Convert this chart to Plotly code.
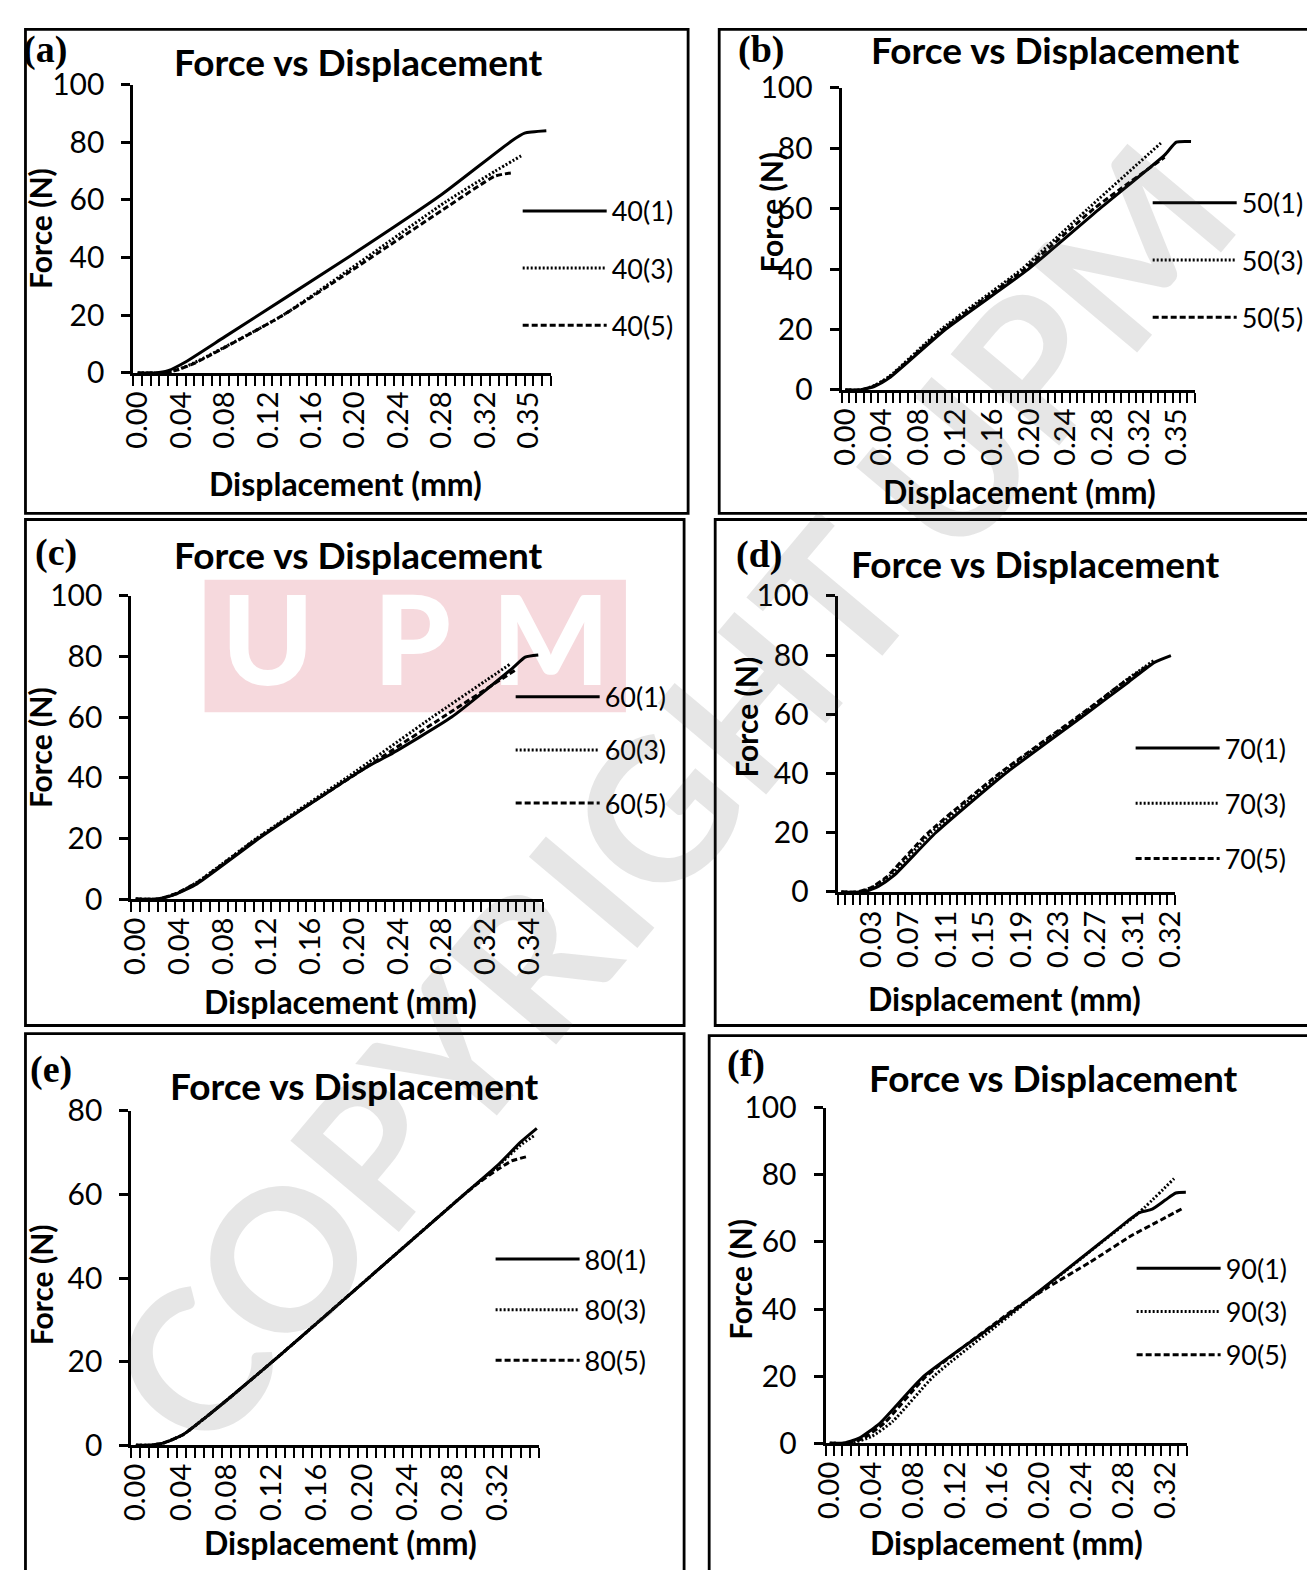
import plotly.graph_objects as go

W, H = 1315, 1570
FONT = "Lato"
SERIF = "Liberation Serif"

# ---------------- data ----------------
# x values are positions on the (Excel-style) category axis: one category per tick mark;
# tick labels give the displacement (mm) shown at those categories.  y = Force (N)

# Panel (a)
A_NAMES = ["40(1)", "40(3)", "40(5)"]
A_X1 = [0, 2, 3.5, 5.5, 10, 24.4, 35, 43, 44.5, 47]
A_Y1 = [0, 0, 0.8, 3.8, 12.5, 40.5, 62, 80.5, 83.2, 84]
A_X3 = [0, 3, 4.5, 6.5, 16.7, 35.5, 41.1, 44.1]
A_Y3 = [0, 0, 1, 3.5, 20, 59.5, 70, 75.3]
A_X5 = [0, 3, 4.5, 6.5, 16.7, 35.7, 41.1, 43.2]
A_Y5 = [0, 0, 1, 3.3, 20, 57.8, 68.3, 69.5]
A_TICKPOS = [0, 5, 10, 15, 20, 25, 30, 35, 40, 45]
A_TICKTXT = ["0.00", "0.04", "0.08", "0.12", "0.16", "0.20", "0.24", "0.28", "0.32", "0.35"]

# Panel (b)
B_NAMES = ["50(1)", "50(3)", "50(5)"]
B_X1 = [0, 2, 4, 6, 13.6, 24.9, 34.6, 43.4, 45, 47]
B_Y1 = [0, 0, 1.2, 4, 20, 40, 60, 77.7, 82, 82.2]
B_X3 = [0, 2, 4, 6, 13, 24, 33, 42.9]
B_Y3 = [0, 0, 1.5, 4.5, 20, 40, 60, 81.7]
B_X5 = [0, 2, 4, 6, 13.3, 24.4, 33.8, 43.4]
B_Y5 = [0, 0, 1.4, 4.3, 20, 40, 60, 77]
B_TICKPOS = [0, 5, 10, 15, 20, 25, 30, 35, 40, 45]
B_TICKTXT = ["0.00", "0.04", "0.08", "0.12", "0.16", "0.20", "0.24", "0.28", "0.32", "0.35"]

# Panel (c)
C_NAMES = ["60(1)", "60(3)", "60(5)"]
C_X1 = [0, 2.5, 4.5, 7, 14.1, 25, 27, 29, 36.1, 43, 44.5, 46]
C_Y1 = [0, 0, 1.5, 5, 20, 41, 44.5, 47.5, 60, 76, 79.8, 80.5]
C_X3 = [0, 2.5, 4.5, 7, 13.8, 24.1, 33.9, 40, 42.8]
C_Y3 = [0, 0, 1.6, 5.5, 20, 40, 60, 72, 77.5]
C_X5 = [0, 2.5, 4.5, 7, 13.9, 24.5, 35.1, 43.6]
C_Y5 = [0, 0, 1.7, 5.4, 20, 40, 60, 75.9]
C_TICKPOS = [0, 5, 10, 15, 20, 25, 30, 35, 40, 45]
C_TICKTXT = ["0.00", "0.04", "0.08", "0.12", "0.16", "0.20", "0.24", "0.28", "0.32", "0.34"]

# Panel (d)
D_NAMES = ["70(1)", "70(3)", "70(5)"]
D_X1 = [0, 3, 5, 7, 12.6, 21.9, 32.6, 38.4, 41.8, 44]
D_Y1 = [0, 0, 2, 5.5, 20, 40, 60, 71, 77.5, 79.8]
D_X3 = [0, 2.5, 4.5, 6.5, 12, 21.4, 32.2, 38, 41.8]
D_Y3 = [0, 0, 2, 5.5, 20, 40, 60, 71.5, 78.3]
D_X5 = [0, 2, 4, 6, 11.6, 21.1, 32, 37.7, 41]
D_Y5 = [0, 0, 1.5, 5, 20, 40, 60, 70.8, 76.5]
D_TICKPOS = [4, 9, 14, 19, 24, 29, 34, 39, 44]
D_TICKTXT = ["0.03", "0.07", "0.11", "0.15", "0.19", "0.23", "0.27", "0.31", "0.32"]

# Panel (e)
E_NAMES = ["80(1)", "80(3)", "80(5)"]
E_X1 = [0, 1.5, 3, 5.2, 7.5, 10.5, 15.9, 25.7, 36, 40, 42.5, 44.3]
E_Y1 = [0, 0, 0.5, 2.5, 6.3, 11.6, 21.5, 40, 59.5, 67, 72.5, 75.8]
E_X3 = [0, 1.5, 3, 5.2, 7.5, 10.5, 15.9, 25.7, 36, 40, 42.5, 44.1]
E_Y3 = [0, 0, 0.5, 2.5, 6.3, 11.6, 21.5, 40, 59.5, 66.8, 71.8, 74.2]
E_X5 = [0, 1.5, 3, 5.2, 7.5, 10.5, 15.9, 25.7, 36, 38, 40, 41.5, 43.1]
E_Y5 = [0, 0, 0.5, 2.5, 6.3, 11.6, 21.5, 40, 59.5, 63, 66, 68, 69]
E_TICKPOS = [0, 5, 10, 15, 20, 25, 30, 35, 40]
E_TICKTXT = ["0.00", "0.04", "0.08", "0.12", "0.16", "0.20", "0.24", "0.28", "0.32"]

# Panel (f)
F_NAMES = ["90(1)", "90(3)", "90(5)"]
F_X1 = [0, 1.5, 3.5, 6, 11.2, 22.2, 32.4, 35.5, 36.8, 38.4, 40, 41.2, 42.4]
F_Y1 = [0, 0, 1.5, 6, 20, 40, 60.1, 66.3, 68.7, 69.8, 72.6, 74.6, 74.8]
F_X3 = [0, 2.5, 5, 7.5, 12.4, 22.4, 32.4, 36.8, 41]
F_Y3 = [0, 0, 2, 6.5, 20, 40, 60, 68.7, 78.9]
F_X5 = [0, 2, 4, 6.5, 11.5, 22, 26, 31, 36, 39, 42]
F_Y5 = [0, 0, 1.5, 6, 20, 40, 46.5, 54, 62, 66, 70]
F_TICKPOS = [0, 5, 10, 15, 20, 25, 30, 35, 40]
F_TICKTXT = ["0.00", "0.04", "0.08", "0.12", "0.16", "0.20", "0.24", "0.28", "0.32"]

TITLE = "Force vs Displacement"
XTITLE = "Displacement (mm)"
YTITLE = "Force (N)"
WATERMARK = "COPYRIGHT UPM"
LOGO_LETTERS = ["U", "P", "M"]

# ---------------- layout (target pixel geometry on the photographed page) ----------------
OX, KX, OY, KY = 25.0, 0.9756, 28.5, 0.9725   # page offset / scale measured on the photo


def sx(t):
    return max(0.0, (t - OX) / KX)


def sy(t):
    return max(0.0, (t - OY) / KY)


PANELS = [
    dict(tag="(a)", names=A_NAMES, xs=[A_X1, A_X3, A_X5], ys=[A_Y1, A_Y3, A_Y5],
         tpos=A_TICKPOS, ttxt=A_TICKTXT, ncat=48, ymax=100,
         box=(12, 12, 687, 512), ax=(134, 550), ay=(372, 85),
         lab=(46, 46), title=(358, 62), xt=(345, 482), yt=(40, 228),
         legx=522, legy=(211, 269, 326)),
    dict(tag="(b)", names=B_NAMES, xs=[B_X1, B_X3, B_X5], ys=[B_Y1, B_Y3, B_Y5],
         tpos=B_TICKPOS, ttxt=B_TICKTXT, ncat=48, ymax=100,
         box=(718, 14, 1340, 512), ax=(840, 1192), ay=(389, 88),
         lab=(760, 50), title=(1053, 50), xt=(1017, 490), yt=(770, 212),
         legx=1150, legy=(203, 262, 318)),
    dict(tag="(c)", names=C_NAMES, xs=[C_X1, C_X3, C_X5], ys=[C_Y1, C_Y3, C_Y5],
         tpos=C_TICKPOS, ttxt=C_TICKTXT, ncat=47, ymax=100,
         box=(10, 518, 683, 1022), ax=(132, 542), ay=(896, 594),
         lab=(57, 551), title=(358, 553), xt=(340, 998), yt=(40, 745),
         legx=515, legy=(695, 749, 802)),
    dict(tag="(d)", names=D_NAMES, xs=[D_X1, D_X3, D_X5], ys=[D_Y1, D_Y3, D_Y5],
         tpos=D_TICKPOS, ttxt=D_TICKTXT, ncat=45, ymax=100,
         box=(714, 518, 1340, 1022), ax=(836, 1172), ay=(889, 594),
         lab=(758, 553), title=(1033, 562), xt=(1002, 995), yt=(745, 715),
         legx=1133, legy=(746, 801, 857)),
    dict(tag="(e)", names=E_NAMES, xs=[E_X1, E_X3, E_X5], ys=[E_Y1, E_Y3, E_Y5],
         tpos=E_TICKPOS, ttxt=E_TICKTXT, ncat=45, ymax=80,
         box=(10, 1030, 683, 1620), ax=(132, 538), ay=(1440, 1107),
         lab=(52, 1066), title=(354, 1082), xt=(340, 1545), yt=(40, 1280),
         legx=495, legy=(1255, 1306, 1357)),
    dict(tag="(f)", names=F_NAMES, xs=[F_X1, F_X3, F_X5], ys=[F_Y1, F_Y3, F_Y5],
         tpos=F_TICKPOS, ttxt=F_TICKTXT, ncat=43, ymax=100,
         box=(708, 1032, 1340, 1620), ax=(824, 1184), ay=(1438, 1104),
         lab=(745, 1060), title=(1051, 1074), xt=(1004, 1545), yt=(738, 1275),
         legx=1134, legy=(1264, 1307, 1352)),
]

DASHES = ["solid", "2px,2px", "6px,3px"]
LW = 3.0
LEG_FONT = 27
ITEM_H = 40          # legend row height (px) at LEG_FONT
ITEM_TOP = 25        # distance from legend top to first row centre

fig = go.Figure()
layout = dict(width=W, height=H, margin=dict(l=0, r=0, t=0, b=0),
              paper_bgcolor="white", plot_bgcolor="rgba(0,0,0,0)",
              showlegend=True, font=dict(family=FONT, color="black"))
annotations = []
shapes = []


def fx(v):
    return v / W


def fy(v):
    return 1 - v / H


# ---- background watermark (first subplot -> drawn beneath the charts) ----
LOGO_BLOCK = (205, 578, 625, 710)          # pink block behind the white logo letters
LOGO_CENTRES = [(268, 652), (412, 652), (550, 652)]
shapes.append(dict(type="rect", xref="paper", yref="paper", layer="below",
                   x0=fx(sx(LOGO_BLOCK[0])), x1=fx(sx(LOGO_BLOCK[2])),
                   y0=fy(sy(LOGO_BLOCK[3])), y1=fy(sy(LOGO_BLOCK[1])),
                   line=dict(width=0), fillcolor="#f6d9dd"))
fig.add_trace(go.Scatter(
    x=[sx(c[0]) for c in LOGO_CENTRES], y=[sy(c[1]) for c in LOGO_CENTRES],
    mode="text", text=LOGO_LETTERS, textposition="middle center",
    textfont=dict(family=FONT, size=124, color="white", weight=900),
    xaxis="x", yaxis="y", showlegend=False, hoverinfo="skip"))
layout["xaxis"] = dict(domain=[0, 1], range=[0, W], visible=False, fixedrange=True)
layout["yaxis"] = dict(domain=[0, 1], range=[H, 0], visible=False, fixedrange=True)
annotations.append(dict(text=WATERMARK, x=0.5, y=0.5, xref="paper", yref="paper",
                        showarrow=False, xanchor="center", yanchor="middle", textangle=-50,
                        font=dict(family=FONT, size=196, color="rgba(60,60,60,0.13)", weight=700)))

for i, p in enumerate(PANELS):
    sfx = str(i + 2)
    xa, ya = "x" + sfx, "y" + sfx
    lg = "legend" if i == 0 else "legend" + str(i + 1)
    for j in range(3):
        fig.add_trace(go.Scatter(
            x=p["xs"][j], y=p["ys"][j], mode="lines", name=p["names"][j],
            xaxis=xa, yaxis=ya, legend=lg, legendgroup=f"g{i}{j}",
            line=dict(color="black", width=LW, dash=DASHES[j], shape="spline", smoothing=0.5),
            hoverinfo="skip"))
    x0, x1 = sx(p["ax"][0]), sx(p["ax"][1])
    y0, y1 = sy(p["ay"][0]), sy(p["ay"][1])
    layout["xaxis" + sfx] = dict(
        domain=[fx(x0), fx(x1)], range=[-0.5, p["ncat"] - 0.5], anchor=ya,
        showline=True, linecolor="black", linewidth=LW, showgrid=False, zeroline=False,
        tickmode="array", tickvals=p["tpos"], ticktext=p["ttxt"], tickangle=-90,
        ticks="outside", ticklen=4, tickcolor="rgba(0,0,0,0)", ticklabelstandoff=0,
        tickfont=dict(family=FONT, size=29, color="black"),
        minor=dict(tickmode="linear", tick0=-0.5, dtick=1, ticks="outside",
                   ticklen=10, tickwidth=2, tickcolor="black", showgrid=False),
        fixedrange=True)
    layout["yaxis" + sfx] = dict(
        domain=[fy(y0), fy(y1)], range=[0, p["ymax"]], anchor=xa,
        showline=True, linecolor="black", linewidth=LW, showgrid=False, zeroline=False,
        tickmode="linear", tick0=0, dtick=20, ticks="outside", ticklen=9, tickwidth=2.5,
        tickcolor="black", ticklabelstandoff=11,
        tickfont=dict(family=FONT, size=30, color="black"), fixedrange=True)
    ly = p["legy"]
    spacing = (sy(ly[2]) - sy(ly[0])) / 2.0
    layout[lg] = dict(
        x=fx(sx(p["legx"]) - 5), y=fy(sy(ly[0]) - ITEM_TOP), xanchor="left", yanchor="top",
        bgcolor="rgba(0,0,0,0)", borderwidth=0,
        font=dict(family=FONT, size=LEG_FONT, color="black"),
        tracegroupgap=max(0, spacing - ITEM_H), itemwidth=84,
        itemclick=False, itemdoubleclick=False)
    bx0, by0, bx1, by1 = p["box"]
    shapes.append(dict(type="rect", xref="paper", yref="paper",
                       x0=fx(max(1.5, sx(bx0))), x1=fx(sx(bx1)),
                       y0=fy(sy(by1)), y1=fy(max(1.5, sy(by0))),
                       line=dict(color="black", width=2.8),
                       fillcolor="rgba(0,0,0,0)", layer="below"))
    annotations.append(dict(text=p["tag"], x=fx(sx(p["lab"][0])), y=fy(max(22, sy(p["lab"][1]))),
                            xref="paper", yref="paper", showarrow=False,
                            xanchor="center", yanchor="middle",
                            font=dict(family=SERIF, size=38, color="black", weight=700)))
    annotations.append(dict(text=TITLE, x=fx(sx(p["title"][0])), y=fy(max(21, sy(p["title"][1]))),
                            xref="paper", yref="paper", showarrow=False,
                            xanchor="center", yanchor="middle",
                            font=dict(family=FONT, size=37, color="black", weight=700)))
    annotations.append(dict(text=XTITLE, x=fx(sx(p["xt"][0])), y=fy(min(H - 19, sy(p["xt"][1]))),
                            xref="paper", yref="paper", showarrow=False,
                            xanchor="center", yanchor="middle",
                            font=dict(family=FONT, size=32, color="black", weight=700)))
    annotations.append(dict(text=YTITLE, x=fx(max(17, sx(p["yt"][0]))), y=fy(sy(p["yt"][1])),
                            xref="paper", yref="paper", showarrow=False,
                            xanchor="center", yanchor="middle", textangle=-90,
                            font=dict(family=FONT, size=30, color="black", weight=700)))

layout["annotations"] = annotations
layout["shapes"] = shapes
fig.update_layout(**layout)
fig.write_html("out.html")
